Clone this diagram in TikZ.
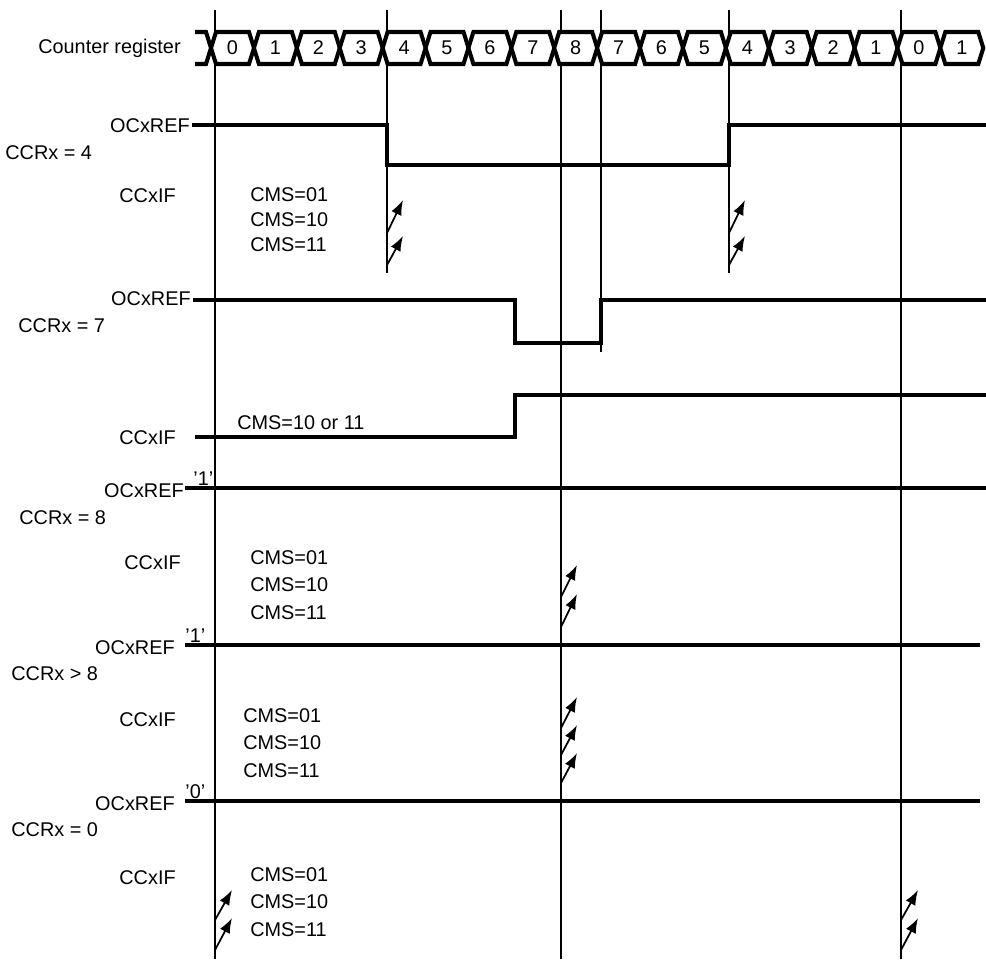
\documentclass[tikz,border=0pt]{standalone}
\usepackage{fontspec}
\setmainfont{Liberation Sans}
\usetikzlibrary{arrows.meta,positioning}

\tikzset{
  lbl/.style={font=\fontsize{11.3}{13}\selectfont, inner sep=0pt},
  sig/.style={line width=2.3pt},
  tline/.style={line width=1pt},
  flag/.style={line width=1pt, -{Latex[length=3mm,width=2.2mm]}},
}

\begin{document}
\begin{tikzpicture}[x=0.02cm,y=-0.02cm]
\useasboundingbox (0,0) rectangle (986,959);

% time markers
\draw[tline] (215,10) -- (215,959);
\draw[tline] (387,10) -- (387,273);
\draw[tline] (561,10) -- (561,959);
\draw[tline] (601,10) -- (601,352);
\draw[tline] (729,10) -- (729,273);
\draw[tline] (901,10) -- (901,959);

% counter register
\node[lbl, anchor=east] (cnt) at (181,48) {Counter register};
\draw[sig] (195,32) -- (206,32) -- (211,48) -- (206,64) -- (195,64);
\foreach \v [count=\i from 0] in {0,1,2,3,4,5,6,7,8,7,6,5,4,3,2,1,0,1} {
  \pgfmathsetmacro{\b}{211+42.9*\i}
  \draw[sig, fill=white] (\b,48) -- (\b+5,32) -- (\b+38,32) -- (\b+43,48)
    -- (\b+38,64) -- (\b+5,64) -- cycle;
  \node[lbl] (c\i) at (\b+21.5,48) {\v};
}

% CCRx = 4
\node[lbl, anchor=east] (ref4) at (190,126) {OCxREF};
\node[lbl, anchor=west] (ccr4) at (5,153) {CCRx = 4};
\node[lbl, anchor=east] (if4) at (176,196) {CCxIF};
\draw[sig] (192,125) -- (387,125) -- (387,165) -- (729,165) -- (729,125) -- (986,125);
\node[lbl, anchor=west] (cms4a) at (250,195) {CMS=01};
\node[lbl, anchor=west] (cms4b) at (250,220) {CMS=10};
\node[lbl, anchor=west] (cms4c) at (250,245) {CMS=11};
\foreach \x in {387,729} {
  \draw[flag] (\x,233) -- (\x+16,200);
  \draw[flag] (\x,265) -- (\x+16,236);
}

% CCRx = 7
\node[lbl, anchor=east] (ref7) at (191,299) {OCxREF};
\node[lbl, anchor=west] (ccr7) at (18,326) {CCRx = 7};
\draw[sig] (193,300) -- (515,300) -- (515,343) -- (601,343) -- (601,300) -- (986,300);
\node[lbl, anchor=east] (if7) at (176,438) {CCxIF};
\draw[sig] (195,437) -- (515,437) -- (515,395) -- (986,395);
\node[lbl, anchor=west] (cms7) at (237,423) {CMS=10 or 11};

% CCRx = 8
\node[lbl, anchor=east] (ref8) at (184,491) {OCxREF};
\node[lbl, anchor=south west] (one8) at (193,486) {'1'};
\node[lbl, anchor=west] (ccr8) at (19,518) {CCRx = 8};
\draw[sig] (185,488) -- (986,488);
\node[lbl, anchor=east] (if8) at (181,563) {CCxIF};
\node[lbl, anchor=west] (cms8a) at (250,558) {CMS=01};
\node[lbl, anchor=west] (cms8b) at (250,585) {CMS=10};
\node[lbl, anchor=west] (cms8c) at (250,613) {CMS=11};
\draw[flag] (561,597) -- (577,565);
\draw[flag] (561,627) -- (577,594);

% CCRx > 8
\node[lbl, anchor=east] (ref9) at (175,648) {OCxREF};
\node[lbl, anchor=south west] (one9) at (185,643) {'1'};
\node[lbl, anchor=west] (ccr9) at (11,674) {CCRx > 8};
\draw[sig] (185,645) -- (980,645);
\node[lbl, anchor=east] (if9) at (176,720) {CCxIF};
\node[lbl, anchor=west] (cms9a) at (243,716) {CMS=01};
\node[lbl, anchor=west] (cms9b) at (243,743) {CMS=10};
\node[lbl, anchor=west] (cms9c) at (243,771) {CMS=11};
\draw[flag] (561,728) -- (577,697);
\draw[flag] (561,755) -- (577,725);
\draw[flag] (561,783) -- (577,753);

% CCRx = 0
\node[lbl, anchor=east] (ref0) at (175,804) {OCxREF};
\node[lbl, anchor=south west] (zero0) at (185,799) {'0'};
\node[lbl, anchor=west] (ccr0) at (11,830) {CCRx = 0};
\draw[sig] (185,801) -- (980,801);
\node[lbl, anchor=east] (if0) at (176,878) {CCxIF};
\node[lbl, anchor=west] (cms0a) at (250,875) {CMS=01};
\node[lbl, anchor=west] (cms0b) at (250,902) {CMS=10};
\node[lbl, anchor=west] (cms0c) at (250,930) {CMS=11};
\foreach \x in {215,901} {
  \draw[flag] (\x,920) -- (\x+17,890);
  \draw[flag] (\x,950) -- (\x+17,918);
}
\end{tikzpicture}
\end{document}
